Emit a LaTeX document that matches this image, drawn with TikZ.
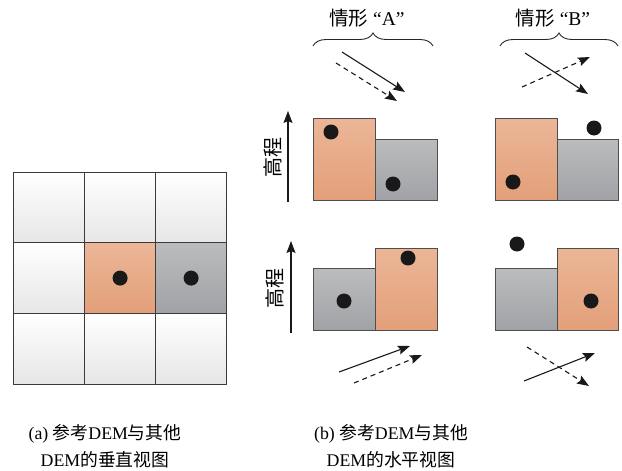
\documentclass[tikz,border=0pt]{standalone}
\usepackage{fontspec}
\setmainfont{Liberation Serif}
\newfontfamily\cjk{Noto Sans CJK SC}
\usetikzlibrary{arrows.meta,decorations.pathreplacing}
\definecolor{oT}{HTML}{EBB697}
\definecolor{oB}{HTML}{E39F79}
\definecolor{gT}{HTML}{BBBCBE}
\definecolor{gB}{HTML}{A1A2A5}
\definecolor{wB}{HTML}{E6E6E6}
\definecolor{edge}{HTML}{3A3A3A}
\tikzset{
  cell/.style={draw=edge, line width=1.2pt, minimum width=71pt, minimum height=71pt, inner sep=0pt, anchor=north west, top color=white, bottom color=wB},
  ocell/.style={cell, top color=oT, bottom color=oB},
  gcell/.style={cell, top color=gT, bottom color=gB},
  blk/.style={draw=edge!90, line width=0.9pt, inner sep=0pt, anchor=north west, minimum width=62pt},
  oblk/.style={blk, top color=oT, bottom color=oB},
  gblk/.style={blk, top color=gT, bottom color=gB},
  dot/.style={circle, fill=black!90, minimum size=15pt, inner sep=0pt},
  arr/.style={-{Stealth[length=12pt,width=9pt,inset=2pt]}, line width=1.1pt, black!90},
  darr/.style={arr, dash pattern=on 5pt off 4pt},
  brc/.style={decorate, decoration={brace, amplitude=13pt}, line width=0.9pt, black!85},
  ttl/.style={font=\fontsize{19.5}{21}\selectfont, inner sep=0pt},
  elev/.style={font=\cjk\fontsize{20}{22}\selectfont, rotate=90, inner sep=0pt},
  captxt/.style={font=\fontsize{17.8}{27}\selectfont, align=center, inner sep=0pt}
}
\begin{document}
\begin{tikzpicture}[x=1pt,y=-1pt]
\useasboundingbox (0,0) rectangle (622,471);
% (a) grid
\node[cell] (c11) at (13,172) {};
\node[cell] (c12) at (84,172) {};
\node[cell] (c13) at (155,172) {};
\node[cell] (c21) at (13,242) {};
\node[ocell] (c22) at (84,242) {};
\node[gcell] (c23) at (155,242) {};
\node[cell] (c31) at (13,313) {};
\node[cell] (c32) at (84,313) {};
\node[cell] (c33) at (155,313) {};
\node[dot] (d22) at (c22.center) {};
\node[dot] (d23) at (c23.center) {};
% (b) top-left: scenario A
\node[ttl] (tA) at (367,18) {{\cjk 情形} “A”};
\coordinate (bA1) at (313,46); \coordinate (bA2) at (433,46);
\draw[brc] (bA1) -- (bA2);
\coordinate (sA1) at (342,52); \coordinate (sA2) at (405,92);
\coordinate (dA1) at (336,63); \coordinate (dA2) at (397,101);
\draw[arr] (sA1) -- (sA2);
\draw[darr] (dA1) -- (dA2);
\coordinate (eA1) at (288,202); \coordinate (eA2) at (288,111);
\draw[arr] (eA1) -- (eA2);
\node[elev] (hA) at (273,157) {高程};
\node[oblk, minimum height=82pt] (oA) at (313,118) {};
\node[gblk, minimum height=61pt] (gA) at (375,139) {};
\node[dot] (doA) at (331,132) {};
\node[dot] (dgA) at (393,184) {};
% (b) top-right: scenario B
\node[ttl] (tB) at (553,18) {{\cjk 情形} “B”};
\coordinate (bB1) at (500,46); \coordinate (bB2) at (618,46);
\draw[brc] (bB1) -- (bB2);
\coordinate (sB1) at (525,53); \coordinate (sB2) at (588,94);
\coordinate (dB1) at (522,87); \coordinate (dB2) at (590,57);
\draw[arr] (sB1) -- (sB2);
\draw[darr] (dB1) -- (dB2);
\node[oblk, minimum height=82pt] (oB) at (495,118) {};
\node[gblk, minimum height=61pt, minimum width=61pt] (gB) at (557,139) {};
\node[dot] (dgB) at (594,128) {};
\node[dot] (doB) at (513,182) {};
% (b) bottom-left
\coordinate (eC1) at (291,333); \coordinate (eC2) at (291,241);
\draw[arr] (eC1) -- (eC2);
\node[elev] (hC) at (275,288) {高程};
\node[gblk, minimum height=62pt] (gC) at (313,268) {};
\node[oblk, minimum height=82pt] (oC) at (375,248) {};
\node[dot] (dgC) at (344,301) {};
\node[dot] (doC) at (408,258) {};
\coordinate (sC1) at (339,372); \coordinate (sC2) at (410,346);
\coordinate (dC1) at (354,383); \coordinate (dC2) at (422,355);
\draw[arr] (sC1) -- (sC2);
\draw[darr] (dC1) -- (dC2);
% (b) bottom-right
\node[gblk, minimum height=62pt] (gD) at (495,268) {};
\node[oblk, minimum height=82pt, minimum width=61pt] (oD) at (557,248) {};
\node[dot] (dgD) at (517,244) {};
\node[dot] (doD) at (591,301) {};
\coordinate (dD1) at (527,347); \coordinate (dD2) at (589,386);
\coordinate (sD1) at (524,381); \coordinate (sD2) at (595,353);
\draw[darr] (dD1) -- (dD2);
\draw[arr] (sD1) -- (sD2);
% captions
\node[captxt] (capa) at (105,446) {(a) {\cjk 参考}DEM{\cjk 与其他}\\DEM{\cjk 的垂直视图}};
\node[captxt] (capb) at (391,446) {(b) {\cjk 参考}DEM{\cjk 与其他}\\DEM{\cjk 的水平视图}};
\end{tikzpicture}
\end{document}
